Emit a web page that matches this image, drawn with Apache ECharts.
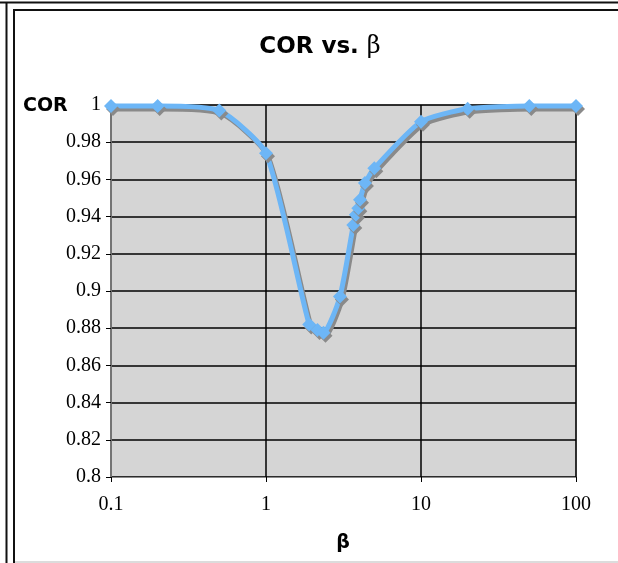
<!DOCTYPE html>
<html>
<head>
<meta charset="utf-8">
<script src="https://cdn.jsdelivr.net/npm/echarts@6/dist/echarts.min.js"></script>
<style>html,body{margin:0;padding:0;background:#fff;}#c{width:618px;height:563px;}</style>
</head>
<body>
<div id="c"></div>
<script>
var betas = [0.1, 0.2, 0.5, 1, 1.9, 2.15, 2.35, 3, 3.66, 3.8, 3.94, 4.04, 4.35, 5, 10, 20, 50, 100];
var cor = [0.9995, 0.9995, 0.997, 0.974, 0.882, 0.879, 0.8775, 0.897, 0.9355, 0.941, 0.9445, 0.949, 0.958, 0.966, 0.991, 0.998, 0.9995, 0.9995];
var xTicks = [0.1, 1, 10, 100];
var titleText = 'COR vs. ';
var yName = 'COR';
var xName = 'β';

var pts = betas.map(function (b, i) { return [b, cor[i]]; });
var chart = echarts.init(document.getElementById('c'));
chart.setOption({
  animation: false,
  backgroundColor: '#fff',
  grid: {left: 111, right: 42, top: 105, bottom: 86, show: true, backgroundColor: '#d5d5d5', borderColor: '#8c8c8c', borderWidth: 1},
  xAxis: {
    type: 'log', logBase: 10, min: 0.1, max: 100,
    axisLine: {show: true, lineStyle: {color: '#8c8c8c', width: 1}},
    axisTick: {show: true, length: 5, lineStyle: {color: '#000'}},
    minorTick: {show: false},
    splitLine: {show: true, lineStyle: {color: '#000', width: 1.5}},
    axisLabel: {margin: 18, fontFamily: 'Liberation Serif', fontSize: 20, color: '#000',
      formatter: function (v) { return xTicks.indexOf(+v.toPrecision(6)) >= 0 ? String(+v.toPrecision(6)) : ''; }}
  },
  yAxis: {
    type: 'value', min: 0.8, max: 1, interval: 0.02,
    axisLine: {show: true, lineStyle: {color: '#8c8c8c', width: 1.5}},
    axisTick: {show: true, length: 5, lineStyle: {color: '#000'}},
    splitLine: {show: true, lineStyle: {color: '#000', width: 1.5}},
    axisLabel: {margin: 10, fontFamily: 'Liberation Serif', fontSize: 20, color: '#000',
      formatter: function (v) { return String(+v.toFixed(2)); }}
  },
  series: [{
    type: 'line', data: pts, smooth: 0.2,
    symbol: 'diamond', symbolSize: 14,
    lineStyle: {color: '#6db6f6', width: 5, shadowColor: '#8a8a8a', shadowOffsetX: 2, shadowOffsetY: 3, shadowBlur: 0},
    itemStyle: {color: '#6db6f6', shadowColor: '#8a8a8a', shadowOffsetX: 2, shadowOffsetY: 3, shadowBlur: 0}
  }],
  graphic: [
    {type: 'line', shape: {x1: 0, y1: 2.5, x2: 618, y2: 2.5}, style: {stroke: '#111', lineWidth: 2}},
    {type: 'line', shape: {x1: 13, y1: 10, x2: 618, y2: 10}, style: {stroke: '#111', lineWidth: 2}},
    {type: 'line', shape: {x1: 6.5, y1: 2, x2: 6.5, y2: 563}, style: {stroke: '#111', lineWidth: 2}},
    {type: 'line', shape: {x1: 14, y1: 10, x2: 14, y2: 563}, style: {stroke: '#111', lineWidth: 2}},
    {type: 'line', shape: {x1: 15, y1: 562, x2: 618, y2: 562}, style: {stroke: '#d0d0d0', lineWidth: 1.5}},
    {type: 'text', x: 320, y: 47, style: {text: '{a|' + titleText + '}{b|β}', align: 'center', verticalAlign: 'middle',
      rich: {a: {fontFamily: 'DejaVu Sans', fontWeight: 'bold', fontSize: 23, fill: '#000'},
             b: {fontFamily: 'DejaVu Serif', fontSize: 24, fill: '#000'}}}},
    {type: 'text', x: 23, y: 106, style: {text: yName, fontFamily: 'DejaVu Sans', fontWeight: 'bold', fontSize: 19, fill: '#000', verticalAlign: 'middle'}},
    {type: 'text', x: 343, y: 543, style: {text: xName, fontFamily: 'DejaVu Sans', fontWeight: 'bold', fontSize: 19, fill: '#000', align: 'center', verticalAlign: 'middle'}}
  ]
});
</script>
</body>
</html>
